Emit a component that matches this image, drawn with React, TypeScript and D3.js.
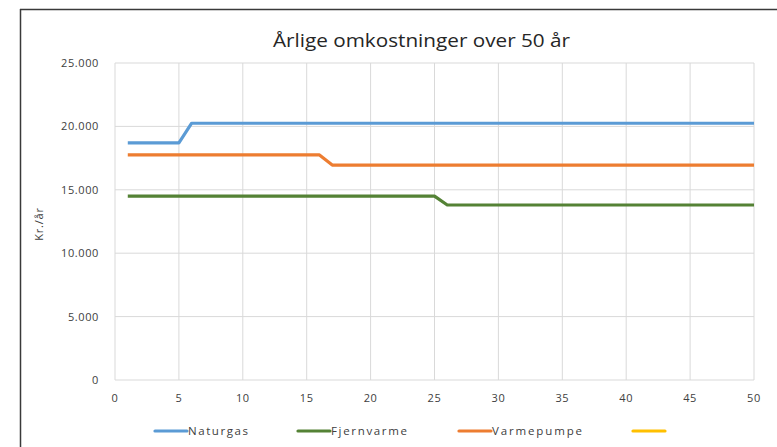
import React from "react";
import * as d3 from "d3";

const years: number[] = Array.from({ length: 50 }, (_, i) => i + 1);
const naturgas: number[] = years.map((y) => (y <= 5 ? 18700 : 20250));
const fjernvarme: number[] = years.map((y) => (y <= 25 ? 14500 : 13800));
const varmepumpe: number[] = years.map((y) => (y <= 16 ? 17750 : 16950));
const yTicks = [0, 5000, 10000, 15000, 20000, 25000];
const xTicks = [0, 5, 10, 15, 20, 25, 30, 35, 40, 45, 50];

const series = [
  { name: "Naturgas", values: naturgas, color: "#5B9BD5" },
  { name: "Fjernvarme", values: fjernvarme, color: "#548235" },
  { name: "Varmepumpe", values: varmepumpe, color: "#ED7D31" },
];

const legendItems = [
  { name: "Naturgas", color: "#5B9BD5", x: 155, w: 60 },
  { name: "Fjernvarme", color: "#548235", x: 298, w: 76 },
  { name: "Varmepumpe", color: "#ED7D31", x: 459, w: 90 },
  { name: "", color: "#FFC000", x: 633, w: 0 },
];

const fmt = (v: number) => (v === 0 ? "0" : d3.format(",")(v).replace(/,/g, "."));

export default function App() {
  const W = 777, H = 447;
  const L = 115, R = 754, T = 63, B = 380;
  const x = d3.scaleLinear().domain([0, 50]).range([L, R]);
  const y = d3.scaleLinear().domain([0, 25000]).range([B, T]);
  const line = d3
    .line<number>()
    .x((_, i) => x(years[i]))
    .y((d) => y(d));
  const font = "'Open Sans', 'Noto Sans', sans-serif";
  return (
    <svg
      width={W}
      height={H}
      style={{ position: "absolute", left: 0, top: 0, background: "#fff" }}
      fontFamily={font}
    >
      <rect x={0} y={0} width={W} height={H} fill="#fff" />
      {/* frame */}
      <line x1={20} y1={9.5} x2={W} y2={9.5} stroke="#3a3a3a" strokeWidth={1.5} />
      <line x1={20.5} y1={9} x2={20.5} y2={H} stroke="#3a3a3a" strokeWidth={1.5} />
      <text x={273} y={47} fontSize={19} fill="#262626" textLength={297} lengthAdjust="spacingAndGlyphs">
        Årlige omkostninger over 50 år
      </text>
      {/* grid */}
      {yTicks.map((t) => (
        <line key={"gy" + t} x1={L} x2={R} y1={y(t)} y2={y(t)} stroke="#d9d9d9" strokeWidth={1} />
      ))}
      {xTicks.map((t) => (
        <line key={"gx" + t} x1={x(t)} x2={x(t)} y1={T} y2={B} stroke="#d9d9d9" strokeWidth={1} />
      ))}
      {/* y tick labels */}
      {yTicks.map((t) => (
        <text key={"ty" + t} x={99} y={y(t) + 4} textAnchor="end" fontSize={11} letterSpacing={0.6} fill="#404040">
          {fmt(t)}
        </text>
      ))}
      {xTicks.map((t) => (
        <text key={"tx" + t} x={x(t)} y={402} textAnchor="middle" fontSize={11} letterSpacing={0.6} fill="#404040">
          {t}
        </text>
      ))}
      <text
        transform={`translate(43,224) rotate(-90)`}
        textAnchor="middle"
        fontSize={11}
        letterSpacing={0.8}
        fill="#404040"
      >
        Kr./år
      </text>
      {series.map((s) => (
        <path
          key={s.name}
          d={line(s.values) || ""}
          fill="none"
          stroke={s.color}
          strokeWidth={3.2}
          strokeLinejoin="round"
        />
      ))}
      {/* legend */}
      {legendItems.map((it) => (
        <g key={it.x}>
          <line x1={it.x} x2={it.x + 32} y1={431} y2={431} stroke={it.color} strokeWidth={3.2} strokeLinecap="round" />
          {it.name ? (
            <text x={it.x + 33} y={435} fontSize={11.5} fill="#404040" textLength={it.w} lengthAdjust="spacing">
              {it.name}
            </text>
          ) : null}
        </g>
      ))}
    </svg>
  );
}
